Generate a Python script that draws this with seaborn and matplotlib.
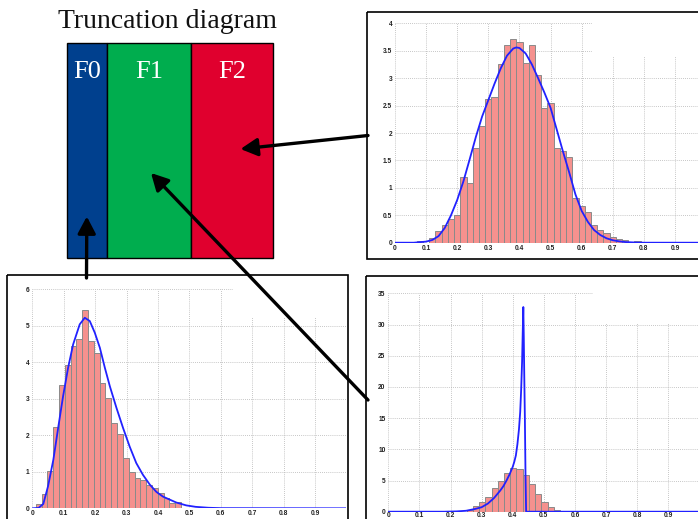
import numpy as np
import pandas as pd
import matplotlib
matplotlib.use("Agg")
import matplotlib.pyplot as plt
from matplotlib.patches import Rectangle
import seaborn as sns

# ---------------- data ----------------
# Truncation diagram segments (share of the unit interval)
segment_labels = ["F0", "F1", "F2"]
segment_shares = [0.197, 0.403, 0.400]
segment_colors = ["#00408e", "#00ad4e", "#e0002e"]

x_tick_values = [0, 0.1, 0.2, 0.3, 0.4, 0.5, 0.6, 0.7, 0.8, 0.9]
x_tick_labels = ["0", "0.1", "0.2", "0.3", "0.4", "0.5", "0.6", "0.7", "0.8", "0.9"]

# F2 sample: histogram (density) and fitted curve
f2_bin_start, f2_bin_width = 0.07, 0.02
f2_heights = [0.03, 0.0, 0.09, 0.21, 0.33, 0.44, 0.51, 1.19, 1.09, 1.72, 2.13, 2.62,
              2.65, 3.25, 3.60, 3.71, 3.65, 3.28, 3.60, 3.05, 2.45, 2.55, 1.73, 1.67,
              1.56, 0.81, 0.67, 0.56, 0.32, 0.24, 0.18, 0.11, 0.07, 0.05, 0.02, 0.04]
f2_curve_x = [0.0, 0.06, 0.10, 0.12, 0.14, 0.16, 0.18, 0.20, 0.22, 0.24, 0.26, 0.28,
              0.30, 0.32, 0.34, 0.36, 0.38, 0.39, 0.40, 0.42, 0.44, 0.46, 0.48, 0.50,
              0.52, 0.54, 0.56, 0.58, 0.60, 0.62, 0.64, 0.66, 0.68, 0.70, 0.72, 0.74,
              0.77, 0.80, 1.0]
f2_curve_y = [0.0, 0.0, 0.02, 0.05, 0.12, 0.27, 0.50, 0.78, 1.12, 1.52, 1.93, 2.30,
              2.60, 2.90, 3.18, 3.41, 3.54, 3.56, 3.55, 3.45, 3.25, 3.00, 2.74, 2.46,
              2.06, 1.66, 1.28, 0.88, 0.58, 0.38, 0.23, 0.14, 0.08, 0.045, 0.025, 0.012,
              0.004, 0.0, 0.0]
f2_yticks = [0, 0.5, 1, 1.5, 2, 2.5, 3, 3.5, 4]
f2_ytick_labels = ["0", "0.5", "1", "1.5", "2", "2.5", "3", "3.5", "4"]

# F0 sample
f0_bin_start, f0_bin_width = 0.011, 0.0185
f0_heights = [0.12, 0.39, 1.02, 2.22, 3.37, 3.92, 4.45, 4.64, 5.43, 4.57, 4.25, 3.44,
              3.02, 2.33, 2.04, 1.38, 1.00, 0.84, 0.77, 0.64, 0.55, 0.42, 0.29, 0.15, 0.17]
f0_curve_x = [0.0, 0.02, 0.035, 0.05, 0.067, 0.083, 0.098, 0.114, 0.13, 0.151, 0.167,
              0.183, 0.199, 0.215, 0.231, 0.247, 0.268, 0.289, 0.31, 0.331, 0.352,
              0.374, 0.395, 0.416, 0.437, 0.458, 0.49, 0.52, 0.56, 0.60, 1.0]
f0_curve_y = [0.0, 0.01, 0.12, 0.60, 1.33, 2.24, 3.07, 3.85, 4.49, 5.04, 5.22,
              5.13, 4.81, 4.40, 3.85, 3.34, 2.75, 2.20, 1.69, 1.24, 0.92,
              0.65, 0.45, 0.32, 0.24, 0.16, 0.08, 0.04, 0.015, 0.004, 0.0]
f0_yticks = [0, 1, 2, 3, 4, 5, 6]
f0_ytick_labels = ["0", "1", "2", "3", "4", "5", "6"]

# F1 sample
f1_bin_start, f1_bin_width = 0.252, 0.02
f1_heights = [0.30, 0.85, 1.55, 2.35, 3.80, 4.90, 6.20, 7.05, 6.85, 5.85, 4.45, 2.90,
              1.58, 0.70, 0.25]
f1_curve_x = [0.0, 0.18, 0.22, 0.25, 0.28, 0.30, 0.32, 0.34, 0.36, 0.37, 0.38, 0.39,
              0.40, 0.405, 0.41, 0.415, 0.42, 0.424, 0.427, 0.430, 0.432, 0.434,
              0.4355, 0.437, 0.439, 0.441, 0.443, 0.46, 1.0]
f1_curve_y = [0.0, 0.0, 0.05, 0.15, 0.45, 0.72, 1.30, 2.20, 3.40, 4.10, 5.00, 6.00,
              7.20, 8.00, 9.00, 10.8, 13.2, 16.0, 19.5, 24.0, 28.5, 32.8,
              28.0, 22.0, 15.0, 6.0, 0.0, 0.0, 0.0]
f1_yticks = [0, 5, 10, 15, 20, 25, 30, 35]
f1_ytick_labels = ["0", "5", "10", "15", "20", "25", "30", "35"]

# ---------------- styling ----------------
sns.set_style("white")
BAR_FILL = "#f5918e"
BAR_EDGE = "#8a8a8a"
CURVE = "#2121ff"
GRID = "#b4b4b4"
SERIF = ["Liberation Serif", "DejaVu Serif"]
SANS = ["Liberation Sans", "DejaVu Sans"]

W, H = 698, 519
fig = plt.figure(figsize=(W / 100, H / 100), dpi=100)
fig.patch.set_facecolor("white")


def rect(x0, y0, x1, y1):
    """Pixel box (top-left origin) -> figure fraction [l, b, w, h]."""
    return [x0 / W, 1 - y1 / H, (x1 - x0) / W, (y1 - y0) / H]


def draw_panel(ax, start, width, heights, cx, cy, yticks, ylabels, cover, xpad=2):
    n = len(heights)
    centers = start + width * (np.arange(n) + 0.5)
    hist_df = pd.DataFrame({"value": centers, "density": heights})
    sns.histplot(data=hist_df, x="value", weights="density", binwidth=width,
                 binrange=(start, start + n * width - width * 0.01), ax=ax,
                 color=BAR_FILL, edgecolor=BAR_EDGE, linewidth=0.7, alpha=1, zorder=2)
    curve_df = pd.DataFrame({"value": cx, "density": cy})
    sns.lineplot(data=curve_df, x="value", y="density", ax=ax, color=CURVE,
                 linewidth=1.3, estimator=None, zorder=3)
    ymax = yticks[-1]
    ax.set_xlim(0, 1)
    ax.set_ylim(0, ymax)
    ax.set_xticks(x_tick_values)
    ax.set_xticklabels(x_tick_labels)
    ax.set_yticks(yticks)
    ax.set_yticklabels(ylabels)
    ax.set_xlabel("")
    ax.set_ylabel("")
    ax.set_axisbelow(True)
    ax.grid(True, linestyle=(0, (1, 1.5)), color=GRID, linewidth=0.6)
    # blank corner over the upper-right grid
    cx0, cy0 = cover
    ax.add_patch(Rectangle((cx0, cy0 * ymax), 1 - cx0, ymax * (1 - cy0) + 1,
                           facecolor="white", edgecolor="none", zorder=1))
    for s in ax.spines.values():
        s.set_visible(False)
    ax.tick_params(length=0, pad=2, labelsize=4.8, labelcolor="#222222")
    ax.tick_params(axis="x", pad=xpad)
    for t in ax.get_xticklabels() + ax.get_yticklabels():
        t.set_fontweight("bold")
        t.set_fontfamily(SANS)
    ax.patch.set_alpha(0)


# top-right panel (F2)
ax_f2 = fig.add_axes(rect(395, 23.3, 706.1, 242.7))
draw_panel(ax_f2, f2_bin_start, f2_bin_width, f2_heights, f2_curve_x, f2_curve_y,
           f2_yticks, f2_ytick_labels, (0.632, 0.85))

# bottom-left panel (F0)
ax_f0 = fig.add_axes(rect(32.3, 289.3, 346.4, 508.3))
draw_panel(ax_f0, f0_bin_start, f0_bin_width, f0_heights, f0_curve_x, f0_curve_y,
           f0_yticks, f0_ytick_labels, (0.64, 0.87), xpad=1.2)

# bottom-right panel (F1)
ax_f1 = fig.add_axes(rect(388.3, 293.3, 699.4, 511.7))
draw_panel(ax_f1, f1_bin_start, f1_bin_width, f1_heights, f1_curve_x, f1_curve_y,
           f1_yticks, f1_ytick_labels, (0.658, 0.86), xpad=0.3)

# truncation diagram
ax_d = fig.add_axes(rect(66.7, 42.7, 273.3, 258.3))
lefts = np.concatenate([[0], np.cumsum(segment_shares)[:-1]])
ax_d.barh([0] * len(segment_shares), segment_shares, left=lefts, height=1,
          color=segment_colors, edgecolor="black", linewidth=1.0, clip_on=False)
for lab, l, w in zip(segment_labels, lefts, segment_shares):
    ax_d.text(l + w / 2, 0.364, lab, ha="center", va="center", color="white",
              fontsize=19, fontfamily=SERIF)
ax_d.set_xlim(0, 1)
ax_d.set_ylim(-0.5, 0.5)
ax_d.axis("off")

fig.text(168 / W, 1 - 21 / H, "Truncation diagram", ha="center", va="center",
         fontsize=20, fontfamily=SERIF, color="#111111")

# overlay: panel frames and arrows
ov = fig.add_axes([0, 0, 1, 1], zorder=10)
ov.set_xlim(0, W)
ov.set_ylim(H, 0)
ov.axis("off")
ov.patch.set_alpha(0)
for (x0, y0, w, h) in [(366.7, 11.7, 340, 247.6), (6.7, 275, 341, 260), (366, 276, 340, 260)]:
    ov.add_patch(Rectangle((x0, y0), w, h, fill=False, edgecolor="black", linewidth=1.2))

arrow_style = dict(arrowstyle="-|>,head_length=0.85,head_width=0.45", lw=2.4,
                   color="black", shrinkA=0, shrinkB=0, mutation_scale=12)
for start, tip in [((368, 135.5), (240.5, 149)),
                   ((368, 400), (151, 173)),
                   ((86.5, 278), (86.8, 216.5))]:
    ov.annotate("", xy=tip, xytext=start, arrowprops=arrow_style)

fig.savefig("out.png", dpi=100, facecolor="white")
